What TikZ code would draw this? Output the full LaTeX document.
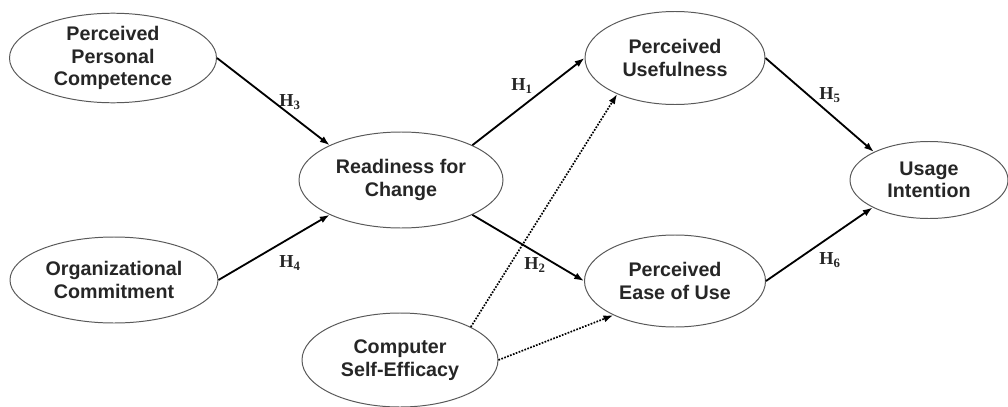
\documentclass[tikz,border=0pt]{standalone}
\usepackage{fontspec}
\setmainfont{Liberation Sans}
\newfontfamily\hfont{Liberation Serif}
\usepackage{tikz}
\usetikzlibrary{shapes,arrows.meta,positioning}

\begin{document}
\begin{tikzpicture}[
  construct/.style={ellipse, draw=black!65, line width=0.7pt, fill=white,
    inner sep=0pt, align=center, text=black!85,
    font=\fontsize{14}{16}\selectfont\bfseries},
  hyp/.style={line width=1.3pt, -{Latex[length=7pt,width=5pt]}},
  link/.style={line width=1.2pt, dash pattern=on 1.2pt off 1pt,
    -{Latex[length=7pt,width=5pt]}},
  hlabel/.style={font=\hfont\fontsize{13}{15}\selectfont\bfseries, text=black!85}
]
\useasboundingbox (0,0) rectangle (25.2,10.15);

% Constructs
\node[construct, minimum width=5.175cm, minimum height=2.175cm] (ppc) at (2.825,8.7) {Perceived\\Personal\\Competence};
\node[construct, minimum width=5.2cm, minimum height=2.15cm] (oc) at (2.85,3.15) {Organizational\\Commitment};
\node[construct, minimum width=5.1cm, minimum height=2.4cm] (rfc) at (10.025,5.65) {Readiness for\\Change};
\node[construct, minimum width=4.9cm, minimum height=2.35cm] (cse) at (10.0,1.15) {Computer\\Self-Efficacy};
\node[construct, minimum width=4.5cm, minimum height=2.325cm] (pu) at (16.875,8.7) {Perceived\\Usefulness};
\node[construct, minimum width=4.525cm, minimum height=2.3cm] (peu) at (16.875,3.125) {Perceived\\Ease of Use};
\node[construct, minimum width=3.95cm, minimum height=1.925cm] (ui) at (23.225,5.65) {Usage\\Intention};

% Hypothesised paths
\draw[hyp] (ppc.east) -- (rfc.154);
\draw[hyp] (oc.east) -- (rfc.-154);
\draw[hyp] (rfc.26) -- (pu.180);
\draw[hyp] (rfc.-26) -- (peu.180);
\draw[hyp] (pu.east) -- (ui.153);
\draw[hyp] (peu.east) -- (ui.-154);

% Self-efficacy links
\draw[link] (cse.25) -- (pu.-148);
\draw[link] (cse.east) -- (peu.-151);

% Path labels
\node[hlabel] (h1) at (13.05,8.0) {H\textsubscript{1}};
\node[hlabel] (h2) at (13.375,3.525) {H\textsubscript{2}};
\node[hlabel] (h3) at (7.25,7.6) {H\textsubscript{3}};
\node[hlabel] (h4) at (7.25,3.575) {H\textsubscript{4}};
\node[hlabel] (h5) at (20.75,7.775) {H\textsubscript{5}};
\node[hlabel] (h6) at (20.75,3.65) {H\textsubscript{6}};
\end{tikzpicture}
\end{document}
